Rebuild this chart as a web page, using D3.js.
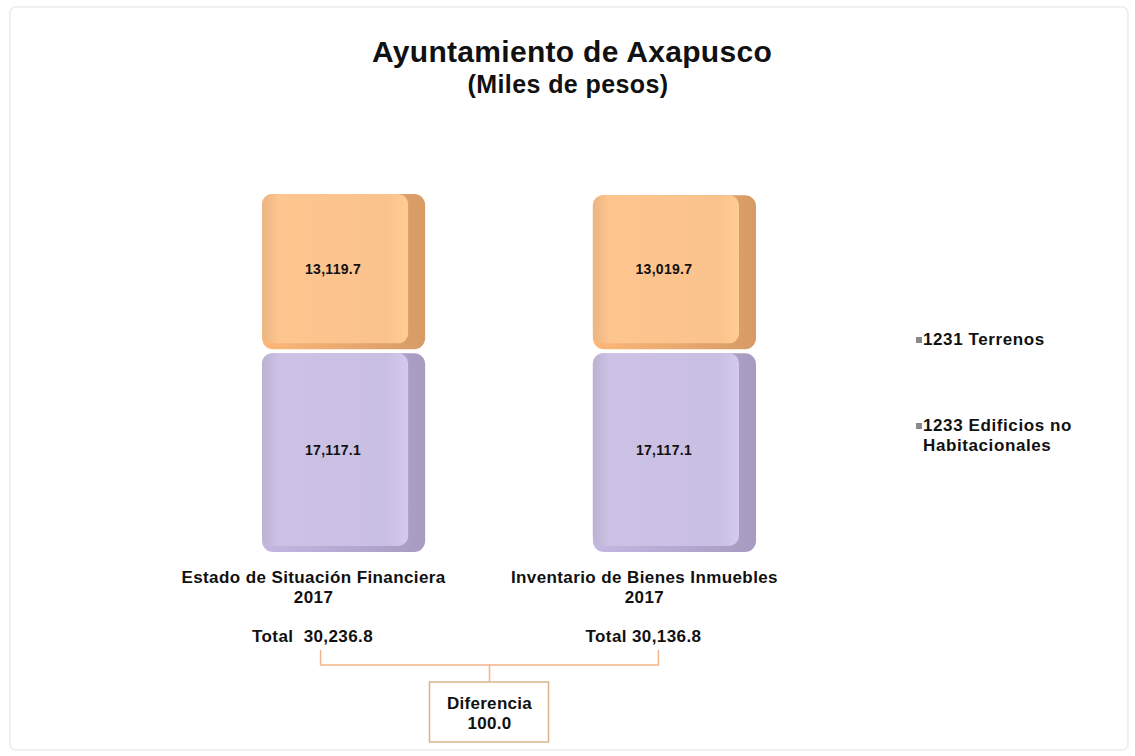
<!DOCTYPE html>
<html>
<head>
<meta charset="utf-8">
<script src="https://cdn.jsdelivr.net/npm/d3@7"></script>
<style>
  body { margin: 0; background: #fff; }
  text { font-family: "Liberation Sans", Arial, sans-serif; font-weight: bold; fill: #111; white-space: pre; }
</style>
</head>
<body>
<div id="chart"></div>
<script>
var categories = ["Estado de Situación Financiera", "Inventario de Bienes Inmuebles"],
  years = ["2017", "2017"],
  series = ["1233 Edificios no Habitacionales", "1231 Terrenos"],
  edificios = [17117.1, 17117.1],
  terrenos = [13119.7, 13019.7],
  totals = [30236.8, 30136.8],
  totalLabels = ["Total  30,236.8", "Total 30,136.8"];

var W = 1135, H = 756,
  baseY = 552, topY = 194,
  gap = 4, side = 17, bottom = 6;

var faceCol = ["#c9bfe2", "#fac28c"],
  sideCol = ["#b0a4cc", "#e3a46c"];

var svg = d3.select("#chart").append("svg")
  .attr("width", W)
  .attr("height", H);

var defs = svg.append("defs");
faceCol.forEach(function(c, i){
  var g = defs.append("linearGradient").attr("id", "face" + i)
    .attr("x1", 0).attr("x2", 1).attr("y1", 0).attr("y2", 0);
  g.append("stop").attr("offset", "0%").attr("stop-color", d3.color(c).darker(0.2));
  g.append("stop").attr("offset", "12%").attr("stop-color", d3.color(c).brighter(0.05));
  g.append("stop").attr("offset", "85%").attr("stop-color", c);
  g.append("stop").attr("offset", "100%").attr("stop-color", d3.color(c).brighter(0.15));
  var s = defs.append("linearGradient").attr("id", "side" + i)
    .attr("x1", 0).attr("x2", 1).attr("y1", 0).attr("y2", 0);
  s.append("stop").attr("offset", "0%").attr("stop-color", d3.color(sideCol[i]).brighter(0.3));
  s.append("stop").attr("offset", "100%").attr("stop-color", d3.color(sideCol[i]).darker(0.15));
});

// frame
svg.append("rect")
  .attr("x", 10).attr("y", 7)
  .attr("width", 1118).attr("height", 743)
  .attr("rx", 6)
  .style("fill", "none")
  .style("stroke", "#ececec")
  .style("stroke-width", 1.5);

// title
svg.append("text")
  .attr("x", 572).attr("y", 62)
  .style("text-anchor", "middle")
  .style("font-size", "30px")
  .style("letter-spacing", "0.3px")
  .text("Ayuntamiento de Axapusco");
svg.append("text")
  .attr("x", 568).attr("y", 93)
  .style("text-anchor", "middle")
  .style("font-size", "25px")
  .style("letter-spacing", "0.4px")
  .text("(Miles de pesos)");

var x = d3.scaleBand()
  .domain(categories)
  .range([262, 756])
  .paddingInner(0.507);

var y = d3.scaleLinear()
  .domain([0, d3.max(totals)])
  .range([baseY, topY]);

var stacked = d3.stack().keys([0, 1]).value(function(d, k){ return d[k]; })(
  categories.map(function(c, i){ return [edificios[i], terrenos[i]]; }));

var bw = x.bandwidth();

stacked.forEach(function(layer, si){
  var g = svg.append("g").attr("class", "layer" + si);
  layer.forEach(function(d, i){
    var x0 = x(categories[i]),
      y0 = y(d[1]) + (si == 0 ? gap : 0),
      h = y(d[0]) - y(d[1]) - (si == 0 ? gap : 0);
    // shaded body (side + bottom)
    g.append("rect")
      .attr("x", x0).attr("y", y0)
      .attr("width", bw).attr("height", h)
      .attr("rx", 11).attr("ry", 11)
      .style("fill", "url(#side" + si + ")");
    // front face
    g.append("rect")
      .attr("x", x0).attr("y", y0)
      .attr("width", bw - side).attr("height", h - bottom)
      .attr("rx", 10).attr("ry", 10)
      .style("fill", "url(#face" + si + ")");
    g.append("text")
      .attr("x", x0 + (bw - side) / 2 - 2)
      .attr("y", y0 + (h - bottom) / 2 + 5)
      .style("text-anchor", "middle")
      .style("font-size", "14px")
      .style("letter-spacing", "0.3px")
      .text(d3.format(",.1f")(d.data[si]));
  });
});

// category labels
var labelX = function(c){ return x(c) + bw / 2 - 30; };
function label(cls, yy, fn, dx){
  svg.selectAll("." + cls)
    .data(categories).enter().append("text")
    .attr("class", cls)
    .attr("x", function(d){ return labelX(d) + (dx || 0); })
    .attr("y", yy)
    .style("text-anchor", "middle")
    .style("font-size", "17px")
    .style("letter-spacing", "0.4px")
    .text(fn);
}
label("catLabel", 583, function(d){ return d; });
label("yearLabel", 603, function(d, i){ return years[i]; });
label("totalLabel", 642, function(d, i){ return totalLabels[i]; }, -1);

// bracket
var bl = labelX(categories[0]) + 7,
  br = labelX(categories[1]) + 14,
  bm = (bl + br) / 2;
svg.append("path")
  .attr("d", "M" + bl + ",650V665H" + br + "V650M" + bm + ",665V682")
  .style("fill", "none")
  .style("stroke", "#f2b48a")
  .style("stroke-width", 1.5);

svg.append("rect")
  .attr("x", bm - 60).attr("y", 682)
  .attr("width", 119).attr("height", 60)
  .style("fill", "#fff")
  .style("stroke", "#d8b48c")
  .style("stroke-width", 1.5);
svg.append("text")
  .attr("x", bm).attr("y", 709)
  .style("text-anchor", "middle")
  .style("font-size", "17px")
  .style("letter-spacing", "0.3px")
  .text("Diferencia");
svg.append("text")
  .attr("x", bm).attr("y", 729)
  .style("text-anchor", "middle")
  .style("font-size", "17px")
  .style("letter-spacing", "0.3px")
  .text(d3.format(".1f")(totals[0] - totals[1]));

// legend
var legend = [
  { lines: [series[1]], y: 345 },
  { lines: ["1233 Edificios no", "Habitacionales"], y: 431 }
];
legend.forEach(function(l){
  svg.append("rect")
    .attr("x", 916).attr("y", l.y - 8)
    .attr("width", 6).attr("height", 6)
    .style("fill", "#8a8a8a");
  l.lines.forEach(function(t, j){
    svg.append("text")
      .attr("x", 923).attr("y", l.y + j * 20)
      .style("font-size", "17px")
      .style("letter-spacing", "0.6px")
      .text(t);
  });
});
</script>
</body>
</html>
